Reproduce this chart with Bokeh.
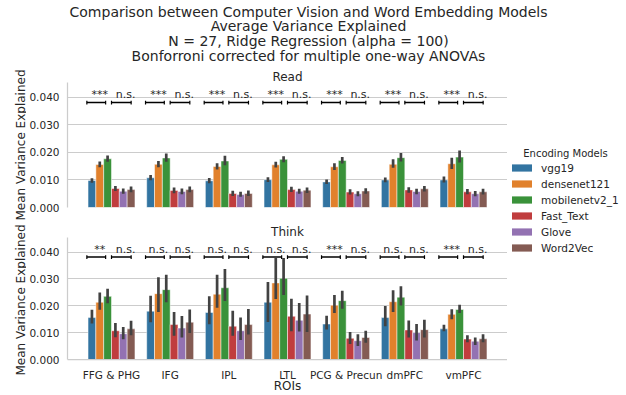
import math
from bokeh.plotting import figure
from bokeh.models import (ColumnDataSource, FactorRange, Range1d, FixedTicker,
                          PrintfTickFormatter, Legend, LegendItem)
from bokeh.transform import dodge
from bokeh.layouts import row, column
from bokeh.embed import file_html
from bokeh.resources import INLINE
from bokeh.core.properties import value

# ---------------- data ----------------
title_lines = [
    "Comparison between Computer Vision and Word Embedding Models",
    "Average Variance Explained",
    "N = 27, Ridge Regression (alpha = 100)",
    "Bonforroni corrected for multiple one-way ANOVAs",
]
panel_names = ["Read", "Think"]
x_label = "ROIs"
y_label = "Mean Variance Explained"
legend_title = "Encoding Models"
rois = ["FFG & PHG", "IFG", "IPL", "LTL", "PCG & Precun", "dmPFC", "vmPFC"]
models = ["vgg19", "densenet121", "mobilenetv2_1", "Fast_Text", "Glove", "Word2Vec"]
colors = ["#3274a1", "#e1812c", "#3a923a", "#c03d3e", "#9372b2", "#845b53"]
y_ticks = [0.0, 0.01, 0.02, 0.03, 0.04]

# rows: models, columns: ROIs
read_mean = [
    [0.0098, 0.0108, 0.0097, 0.0101, 0.0093, 0.0100, 0.0100],
    [0.0156, 0.0157, 0.0149, 0.0155, 0.0148, 0.0157, 0.0159],
    [0.0177, 0.0180, 0.0169, 0.0175, 0.0171, 0.0181, 0.0183],
    [0.0069, 0.0062, 0.0051, 0.0065, 0.0056, 0.0064, 0.0057],
    [0.0059, 0.0058, 0.0047, 0.0059, 0.0050, 0.0058, 0.0050],
    [0.0065, 0.0065, 0.0051, 0.0063, 0.0060, 0.0068, 0.0057],
]
read_lo = [
    [0.0090, 0.0099, 0.0088, 0.0093, 0.0085, 0.0092, 0.0091],
    [0.0146, 0.0146, 0.0138, 0.0145, 0.0136, 0.0144, 0.0140],
    [0.0166, 0.0166, 0.0153, 0.0164, 0.0160, 0.0167, 0.0163],
    [0.0060, 0.0052, 0.0042, 0.0056, 0.0047, 0.0054, 0.0048],
    [0.0050, 0.0048, 0.0039, 0.0050, 0.0041, 0.0048, 0.0041],
    [0.0055, 0.0055, 0.0042, 0.0053, 0.0050, 0.0058, 0.0047],
]
read_hi = [
    [0.0106, 0.0118, 0.0107, 0.0110, 0.0102, 0.0109, 0.0113],
    [0.0167, 0.0169, 0.0161, 0.0166, 0.0161, 0.0175, 0.0181],
    [0.0189, 0.0196, 0.0188, 0.0186, 0.0183, 0.0198, 0.0207],
    [0.0078, 0.0073, 0.0061, 0.0075, 0.0066, 0.0074, 0.0067],
    [0.0069, 0.0069, 0.0057, 0.0068, 0.0059, 0.0068, 0.0060],
    [0.0076, 0.0076, 0.0062, 0.0073, 0.0070, 0.0078, 0.0068],
]
think_mean = [
    [0.0156, 0.0180, 0.0175, 0.0213, 0.0132, 0.0156, 0.0114],
    [0.0213, 0.0245, 0.0243, 0.0285, 0.0202, 0.0215, 0.0168],
    [0.0235, 0.0260, 0.0267, 0.0302, 0.0219, 0.0232, 0.0186],
    [0.0107, 0.0130, 0.0124, 0.0161, 0.0079, 0.0110, 0.0076],
    [0.0096, 0.0117, 0.0107, 0.0146, 0.0070, 0.0100, 0.0068],
    [0.0114, 0.0139, 0.0130, 0.0169, 0.0082, 0.0111, 0.0077],
]
think_lo = [
    [0.0134, 0.0139, 0.0131, 0.0140, 0.0112, 0.0124, 0.0105],
    [0.0185, 0.0177, 0.0193, 0.0225, 0.0173, 0.0177, 0.0150],
    [0.0209, 0.0213, 0.0218, 0.0240, 0.0189, 0.0201, 0.0173],
    [0.0083, 0.0088, 0.0088, 0.0105, 0.0058, 0.0082, 0.0064],
    [0.0075, 0.0082, 0.0073, 0.0104, 0.0050, 0.0071, 0.0054],
    [0.0090, 0.0099, 0.0093, 0.0102, 0.0062, 0.0082, 0.0064],
]
think_hi = [
    [0.0185, 0.0237, 0.0235, 0.0288, 0.0163, 0.0199, 0.0129],
    [0.0249, 0.0306, 0.0315, 0.0378, 0.0240, 0.0258, 0.0187],
    [0.0263, 0.0315, 0.0337, 0.0378, 0.0256, 0.0273, 0.0204],
    [0.0136, 0.0177, 0.0181, 0.0226, 0.0102, 0.0145, 0.0090],
    [0.0121, 0.0162, 0.0156, 0.0210, 0.0094, 0.0132, 0.0082],
    [0.0144, 0.0186, 0.0188, 0.0238, 0.0107, 0.0148, 0.0094],
]
read_sig_vision = ["***", "***", "***", "***", "***", "***", "***"]
read_sig_word = ["n.s.", "n.s.", "n.s.", "n.s.", "n.s.", "n.s.", "n.s."]
think_sig_vision = ["**", "n.s.", "n.s.", "n.s.", "***", "n.s.", "***"]
think_sig_word = ["n.s.", "n.s.", "n.s.", "n.s.", "n.s.", "n.s.", "n.s."]

# ---------------- style ----------------
FONT = "DejaVu Sans"
TXT = "#262626"
GRID = "#cccccc"
ERR = "#424242"
Y_MAX = 0.0454
BAR_W = 0.8 / len(models)
BRACKET_Y = 0.0381
SIG_Y = 0.0410
CAP = 0.0007
V_SPAN = (-0.42, -0.10)
W_SPAN = (0.0, 0.335)
V_TXT = -0.20
W_TXT = 0.24

TOTAL_W = 626
YL_W = 26
LEFT_B = 40
PANEL_W = LEFT_B + 441
LEG_W = TOTAL_W - YL_W - PANEL_W
TITLE_H = 66
P1_H = 154
P2_H = 175
SIDE_H = P1_H + P2_H


def bar_offset(i):
    return -0.4 + (i + 0.5) * BAR_W


def make_panel(name, mean, lo, hi, sig_v, sig_w, height, b_top, b_bottom, show_x):
    p = figure(title=name,
               x_range=FactorRange(factors=rois, range_padding=0.25,
                                   range_padding_units="absolute"),
               y_range=Range1d(0, Y_MAX),
               width=PANEL_W, height=height,
               min_border_left=LEFT_B, min_border_right=0,
               min_border_top=b_top, min_border_bottom=b_bottom,
               output_backend="svg", toolbar_location=None)
    p.title.align = "center"
    p.title.text_font = FONT
    p.title.text_font_size = "12px"
    p.title.text_font_style = "normal"
    p.title.text_color = TXT
    p.title.standoff = -2
    p.outline_line_color = None

    p.xgrid.visible = False
    p.ygrid.ticker = FixedTicker(ticks=y_ticks)
    p.ygrid.grid_line_color = GRID
    p.ygrid.grid_line_width = 1

    ax = p.yaxis[0]
    ax.ticker = FixedTicker(ticks=y_ticks)
    ax.formatter = PrintfTickFormatter(format="%.3f")
    ax.major_label_text_font = FONT
    ax.major_label_text_font_size = "10.5px"
    ax.major_label_text_color = TXT
    ax.major_tick_out = 0
    ax.major_tick_in = 0
    ax.minor_tick_out = 0
    ax.minor_tick_in = 0
    ax.major_label_standoff = 8
    ax.axis_line_color = GRID
    ax.axis_line_width = 1.25

    xa = p.xaxis[0]
    if show_x:
        xa.axis_line_color = GRID
        xa.axis_line_width = 1.25
        xa.major_tick_out = 0
        xa.major_tick_in = 0
        xa.major_label_text_font = FONT
        xa.major_label_text_font_size = "10.5px"
        xa.major_label_text_color = TXT
        xa.major_label_standoff = 9
        xa.axis_label = x_label
        xa.axis_label_text_font = FONT
        xa.axis_label_text_font_size = "12px"
        xa.axis_label_text_font_style = "normal"
        xa.axis_label_text_color = TXT
        xa.axis_label_standoff = -5
    else:
        xa.visible = False

    for i, m in enumerate(models):
        src = ColumnDataSource(dict(roi=rois, top=mean[i], lo=lo[i], hi=hi[i]))
        off = bar_offset(i)
        p.vbar(x=dodge("roi", off, range=p.x_range), top="top", width=BAR_W,
               source=src, fill_color=colors[i], line_color="white",
               line_width=0.5)
        p.segment(x0=dodge("roi", off, range=p.x_range), y0="lo",
                  x1=dodge("roi", off, range=p.x_range), y1="hi",
                  source=src, line_color=ERR, line_width=2.7)

    bsrc = ColumnDataSource(dict(roi=rois,
                                 y=[BRACKET_Y] * len(rois),
                                 ylo=[BRACKET_Y - CAP] * len(rois),
                                 yhi=[BRACKET_Y + CAP] * len(rois),
                                 ty=[SIG_Y] * len(rois),
                                 sv=sig_v, sw=sig_w))
    for (a, b) in (V_SPAN, W_SPAN):
        p.segment(x0=dodge("roi", a, range=p.x_range), y0="y",
                  x1=dodge("roi", b, range=p.x_range), y1="y",
                  source=bsrc, line_color="black", line_width=1.5)
        for e in (a, b):
            p.segment(x0=dodge("roi", e, range=p.x_range), y0="ylo",
                      x1=dodge("roi", e, range=p.x_range), y1="yhi",
                      source=bsrc, line_color="black", line_width=1.2)
    for off, col in ((V_TXT, "sv"), (W_TXT, "sw")):
        p.text(x=dodge("roi", off, range=p.x_range), y="ty", text=col,
               source=bsrc, text_font=value(FONT), text_font_size="11px",
               text_align="center", text_baseline="alphabetic",
               text_color=TXT)
    return p


def blank(w, h):
    f = figure(title=None, width=w, height=h, x_range=Range1d(0, w),
               y_range=Range1d(0, h), min_border=0,
               output_backend="svg", toolbar_location=None)
    f.axis.visible = False
    f.grid.visible = False
    f.outline_line_color = None
    return f


# ---- title figure ----
tf = blank(TOTAL_W, TITLE_H)
tsrc = ColumnDataSource(dict(x=[308] * len(title_lines),
                             y=[TITLE_H - 11 - 14.8 * k for k in range(len(title_lines))],
                             t=title_lines))
tf.text(x="x", y="y", text="t", source=tsrc, text_font=value(FONT),
        text_font_size="14px", text_align="center", text_baseline="alphabetic",
        text_color=TXT)

# ---- panels ----
p1 = make_panel(panel_names[0], read_mean, read_lo, read_hi,
                read_sig_vision, read_sig_word, P1_H, 16, 13, False)
p2 = make_panel(panel_names[1], think_mean, think_lo, think_hi,
                think_sig_vision, think_sig_word, P2_H, 17, 33, True)

# ---- y label figure ----
yf = blank(YL_W, SIDE_H)
ysrc = ColumnDataSource(dict(x=[20, 20],
                             y=[SIDE_H - 16 - 62.5, P2_H - 17 - 62.5],
                             t=[y_label, y_label]))
yf.text(x="x", y="y", text="t", source=ysrc, angle=math.pi / 2,
        text_font=value(FONT), text_font_size="12px", text_align="center",
        text_baseline="middle", text_color=TXT)

# ---- legend figure ----
lf = blank(LEG_W, SIDE_H)
items = []
for i, m in enumerate(models):
    r = lf.vbar(x=[-100], top=[-100], width=1, fill_color=colors[i],
                line_color=None)
    items.append(LegendItem(label=m, renderers=[r]))
leg = Legend(items=items, location=(2, 141), glyph_width=25,
             glyph_height=9, label_height=13, spacing=3, padding=0,
             margin=0, label_standoff=7,
             label_text_font=FONT, label_text_font_size="10.5px",
             label_text_color=TXT, border_line_color=None,
             background_fill_alpha=0)
lf.add_layout(leg)
lsrc = ColumnDataSource(dict(x=[58], y=[SIDE_H - (153.3 - TITLE_H)],
                             t=[legend_title]))
lf.text(x="x", y="y", text="t", source=lsrc, text_font=value(FONT),
        text_font_size="10px", text_align="center", text_baseline="middle",
        text_color=TXT)

layout = column(tf, row(yf, column(p1, p2), lf))

with open("out.html", "w") as fh:
    fh.write(file_html(layout, INLINE))
